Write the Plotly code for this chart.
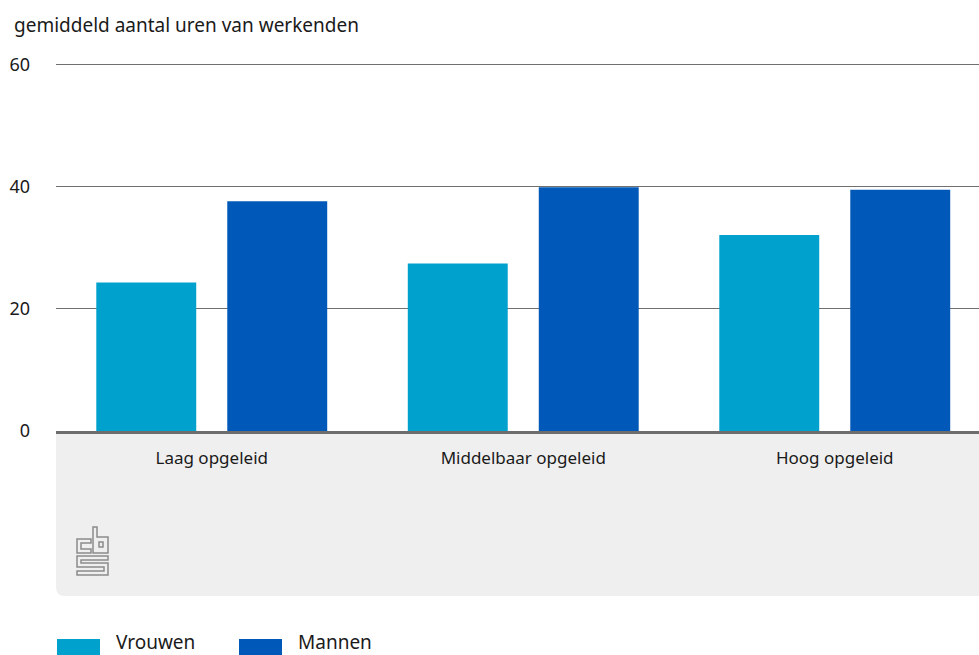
import plotly.graph_objects as go

categories = ["Laag opgeleid", "Middelbaar opgeleid", "Hoog opgeleid"]
vrouwen = [24.3, 27.4, 32.1]
mannen = [37.6, 39.9, 39.5]
series_names = ["Vrouwen", "Mannen"]
series_colors = ["#00a1cd", "#0058b8"]
y_ticks = [0, 20, 40, 60]
y_title = "gemiddeld aantal uren van werkenden"

FONT = "Noto Sans"
W, H = 979, 655
YMAX = 60.4
L, R, B = 56, 0, 224
PH = int(round((H - B - 64) * YMAX / 60))
T = H - B - PH
PW = W - L - R
CAT_PX = 311.5  # pixel pitch of one category in the original
XMAX = -0.5 + PW / CAT_PX

def px(x):
    return (x - L) / PW

def py(y):
    return (H - B - y) / PH

fig = go.Figure()
for name, vals, col in zip(series_names, [vrouwen, mannen], series_colors):
    fig.add_trace(go.Bar(x=categories, y=vals, name=name, showlegend=False,
                         marker=dict(color=col, line=dict(width=0))))

shapes = []
# grey panel under the axis with rounded bottom-left corner
yb = py(596)
rx, ry = 9 / PW, 9 / PH
shapes.append(dict(type="path", xref="paper", yref="paper", layer="below",
                   path=f"M 0,0 L 1,0 L 1,{yb} L {rx},{yb} Q 0,{yb} 0,{yb+ry} Z",
                   fillcolor="#efefef", line=dict(width=0)))

# CBS logo outline
def logo_path(pts):
    s = "M " + " L ".join(f"{px(a)},{py(b)}" for a, b in pts) + " Z"
    return dict(type="path", xref="paper", yref="paper", path=s,
                line=dict(color="#8c8c8c", width=1.5), fillcolor="rgba(0,0,0,0)")

shapes.append(logo_path([(77, 539), (91, 539), (91, 543), (81, 543), (81, 549), (91, 549), (91, 553), (77, 553)]))
shapes.append(logo_path([(93, 527), (97, 527), (97, 537), (108, 537), (108, 553), (93, 553)]))
shapes.append(logo_path([(99, 542), (103, 542), (103, 547), (99, 547)]))
shapes.append(logo_path([(77, 556), (108, 556), (108, 560), (81, 560), (81, 563), (108, 563), (108, 575),
                         (77, 575), (77, 571), (104, 571), (104, 567), (77, 567)]))

annotations = [dict(text=y_title, xref="paper", yref="paper", x=px(12), y=py(25),
                    xanchor="left", yanchor="middle", showarrow=False,
                    font=dict(size=19, family=FONT, color="#1a1a1a"))]

# legend (wide colour blocks, as in the original)
leg_x = [57, 239]
for name, col, x0 in zip(series_names, series_colors, leg_x):
    shapes.append(dict(type="rect", xref="paper", yref="paper",
                       x0=px(x0), x1=px(x0 + 43), y0=py(639), y1=py(660),
                       fillcolor=col, line=dict(width=0)))
    annotations.append(dict(text=name, xref="paper", yref="paper", x=px(x0 + 57), y=py(642),
                            xanchor="left", yanchor="middle", showarrow=False,
                            font=dict(size=19, family=FONT, color="#1a1a1a")))

fig.update_layout(
    width=W, height=H,
    margin=dict(l=L, r=R, t=T, b=B, pad=0),
    paper_bgcolor="white", plot_bgcolor="rgba(0,0,0,0)",
    font=dict(family=FONT, size=17, color="#1a1a1a"),
    barmode="group", bargap=0.159, bargroupgap=0.237,
    shapes=shapes, annotations=annotations,
    showlegend=False,
)
fig.update_yaxes(range=[0, YMAX], tickvals=y_ticks, showgrid=True, gridcolor="#707070", gridwidth=1,
                 zeroline=False, showline=False, ticks="", ticklabelstandoff=25,
                 tickfont=dict(size=18))
fig.update_xaxes(range=[-0.5, XMAX], showline=True, linecolor="#6d6d6d", linewidth=3, ticks="",
                 ticklabelstandoff=10, tickfont=dict(size=17), fixedrange=True)

fig.write_html("out.html", config={"displayModeBar": False},
               post_script="document.body.style.margin='0';document.body.style.overflow='hidden';")
